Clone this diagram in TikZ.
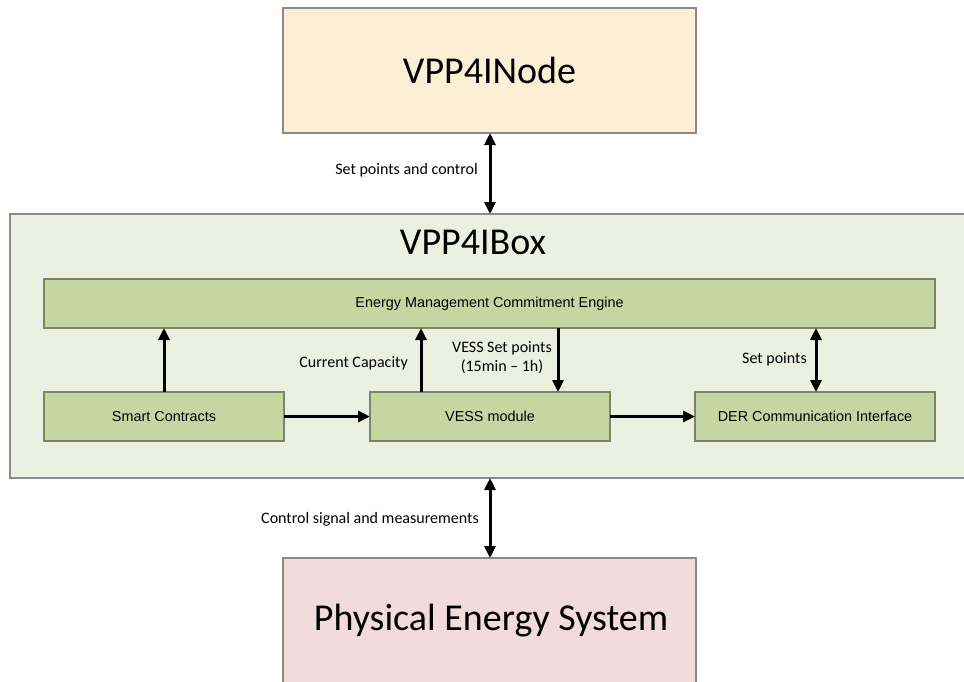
\documentclass[tikz,border=0pt]{standalone}
\usepackage{fontspec}
\setmainfont{Carlito}
\newfontfamily\arialfont{Liberation Sans}
\usetikzlibrary{arrows.meta}
\definecolor{nodefill}{HTML}{FCEFD4}
\definecolor{boxfill}{HTML}{EBF0E1}
\definecolor{modfill}{HTML}{C6D6A2}
\definecolor{modline}{HTML}{7A8468}
\definecolor{physfill}{HTML}{F1DCDB}
\definecolor{outline}{HTML}{8A8A8A}
\tikzset{
  bigblock/.style={draw=outline, line width=1.3pt, inner sep=0pt},
  module/.style={draw=modline, fill=modfill, line width=1.1pt, inner sep=0pt},
  modtext/.style={font=\arialfont\fontsize{14.4}{17}\selectfont},
  lbl/.style={font=\fontsize{16}{19}\selectfont, inner sep=0pt, align=center},
  title/.style={font=\fontsize{38}{44}\selectfont, inner sep=0pt},
  link/.style={line width=3pt, -{Triangle[length=12pt,width=11pt]}},
  dlink/.style={line width=3pt, {Triangle[length=12pt,width=11pt]}-{Triangle[length=12pt,width=11pt]}}
}
\begin{document}
\begin{tikzpicture}[x=1pt, y=-1pt]
  \useasboundingbox (0,0) rectangle (964,681);
  \clip (0,0) rectangle (964,681);

  % outer layers
  \draw[bigblock, fill=nodefill] (283,8) rectangle (696,133);
  \node[title] (nodetitle) at (489.5,70) {VPP4INode};
  \coordinate (nodeS) at (490,133);

  \draw[bigblock, fill=boxfill] (10,214) rectangle (975,478);
  \node[title] (boxtitle) at (473,242) {VPP4IBox};
  \coordinate (boxN) at (490,214);
  \coordinate (boxS) at (490,478);

  \draw[bigblock, fill=physfill] (283,558) rectangle (696,700);
  \node[title] (phystitle) at (491,621) {Physical Energy System};
  \coordinate (physN) at (490,558);

  % modules inside the box
  \draw[module] (44,279) rectangle (935,328);
  \node[modtext] (engine) at (489.5,303.5) {Energy Management Commitment Engine};
  \draw[module] (44,392) rectangle (284,441);
  \node[modtext] (smart) at (164,416.5) {Smart Contracts};
  \draw[module] (370,392) rectangle (610,441);
  \node[modtext] (vess) at (490,416.5) {VESS module};
  \draw[module] (695,392) rectangle (935,441);
  \node[modtext] (der) at (815,416.5) {DER Communication Interface};

  % connectors
  \draw[dlink] (nodeS) -- (boxN);
  \node[lbl, anchor=east] (lblctrl) at (478,170) {Set points and control};

  \draw[dlink] (boxS) -- (physN);
  \node[lbl, anchor=east] (lblmeas) at (479,519) {Control signal and measurements};

  \draw[link] (164,392) -- (164,328);
  \draw[link] (421,392) -- (421,328);
  \node[lbl, anchor=east] (lblcap) at (408,363) {Current Capacity};
  \draw[link] (558,328) -- (558,392);
  \node[lbl] (lblvess) at (502,358) {VESS Set points\\(15min -- 1h)};
  \draw[dlink] (816,328) -- (816,392);
  \node[lbl, anchor=east] (lblset) at (807,359) {Set points};

  \draw[link] (284,416.5) -- (370,416.5);
  \draw[link] (610,416.5) -- (695,416.5);
\end{tikzpicture}
\end{document}
